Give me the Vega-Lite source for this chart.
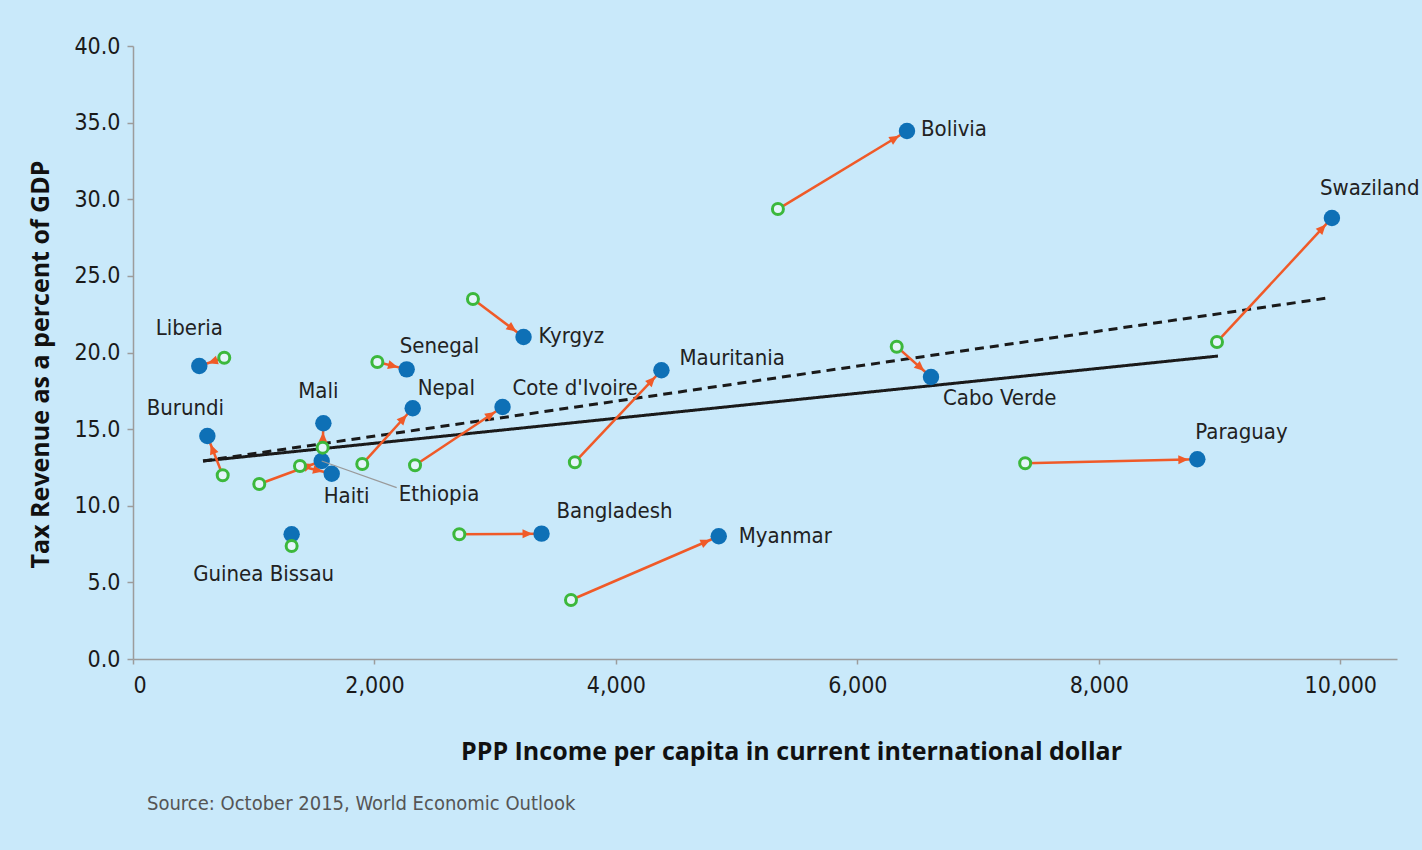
{
  "$schema": "https://vega.github.io/schema/vega-lite/v6.json",
  "autosize": {"type": "none"},
  "padding": {"left": 133, "top": 46, "right": 25, "bottom": 191},
  "width": 1264,
  "height": 613,
  "background": "#c9e9fa",
  "config": {
    "view": {"stroke": null},
    "font": "DejaVu Sans Condensed, Roboto, sans-serif",
    "axis": {
      "grid": false,
      "domainColor": "#9c9c9c",
      "domainWidth": 1.5,
      "tickColor": "#9c9c9c",
      "tickWidth": 1.5,
      "labelFont": "DejaVu Sans Condensed, Roboto, sans-serif",
      "labelFontSize": 23,
      "labelColor": "#1a1a1a",
      "titleFont": "Open Sans",
      "titleFontWeight": "bold",
      "titleFontSize": 25,
      "titleColor": "#111111"
    },
    "axisX": {"tickSize": 5, "labelPadding": 10, "titleX": 658, "titleY": 92, "titleAlign": "center", "titleBaseline": "middle"},
    "axisY": {"tickSize": 6, "labelPadding": 7, "titleX": -93, "titleY": 318, "titleAngle": -90, "titleAlign": "center", "titleBaseline": "middle"}
  },
  "title": {
    "text": "Source: October 2015, World Economic Outlook",
    "orient": "bottom",
    "anchor": "start",
    "frame": "group",
    "dx": 14,
    "offset": 30,
    "font": "DejaVu Sans Condensed, Roboto, sans-serif",
    "fontSize": 20,
    "fontWeight": "normal",
    "color": "#555555"
  },
  "datasets": {
    "countries": [
      {"country": "Bolivia", "x_old": 5342, "y_old": 29.36, "x_new": 6411, "y_new": 34.45},
      {"country": "Swaziland", "x_old": 8979, "y_old": 20.69, "x_new": 9931, "y_new": 28.78},
      {"country": "Kyrgyz", "x_old": 2816, "y_old": 23.49, "x_new": 3235, "y_new": 21.01},
      {"country": "Liberia", "x_old": 756, "y_old": 19.66, "x_new": 549, "y_new": 19.12},
      {"country": "Senegal", "x_old": 2024, "y_old": 19.38, "x_new": 2267, "y_new": 18.9},
      {"country": "Nepal", "x_old": 1899, "y_old": 12.72, "x_new": 2317, "y_new": 16.36},
      {"country": "Cote d'Ivoire", "x_old": 2336, "y_old": 12.64, "x_new": 3061, "y_new": 16.44},
      {"country": "Mauritania", "x_old": 3660, "y_old": 12.84, "x_new": 4377, "y_new": 18.84},
      {"country": "Cabo Verde", "x_old": 6326, "y_old": 20.38, "x_new": 6610, "y_new": 18.4},
      {"country": "Paraguay", "x_old": 7390, "y_old": 12.77, "x_new": 8816, "y_new": 13.03},
      {"country": "Bangladesh", "x_old": 2703, "y_old": 8.14, "x_new": 3384, "y_new": 8.18},
      {"country": "Myanmar", "x_old": 3628, "y_old": 3.85, "x_new": 4852, "y_new": 8.01},
      {"country": "Burundi", "x_old": 743, "y_old": 11.99, "x_new": 616, "y_new": 14.55},
      {"country": "Mali", "x_old": 1571, "y_old": 13.79, "x_new": 1577, "y_new": 15.38},
      {"country": "Ethiopia", "x_old": 1046, "y_old": 11.42, "x_new": 1563, "y_new": 12.92},
      {"country": "Haiti", "x_old": 1383, "y_old": 12.59, "x_new": 1646, "y_new": 12.09},
      {"country": "Guinea Bissau", "x_old": 1314, "y_old": 7.37, "x_new": 1314, "y_new": 8.14}
    ],
    "trend": [
      {"line": "solid", "x": 580, "y": 12.92},
      {"line": "solid", "x": 8987, "y": 19.77},
      {"line": "dashed", "x": 580, "y": 12.92},
      {"line": "dashed", "x": 9898, "y": 23.56}
    ],
    "leader": [
      {"x": 1563, "y": 12.92, "x2": 2184, "y2": 11.18}
    ]
  },
  "layer": [
    {
      "data": {"name": "trend"},
      "mark": {"type": "line", "color": "#1a1a1a", "strokeWidth": 3},
      "encoding": {
        "x": {"field": "x", "type": "quantitative", "title": "PPP Income per capita in current international dollar", "scale": {"domain": [0, 10470], "nice": false, "zero": true}, "axis": {"values": [0, 2000, 4000, 6000, 8000, 10000], "format": ",.0f"}},
        "y": {"field": "y", "type": "quantitative", "title": "Tax Revenue as a percent of GDP", "scale": {"domain": [0, 40], "nice": false}, "axis": {"values": [0, 5, 10, 15, 20, 25, 30, 35, 40], "format": ".1f"}},
        "detail": {"field": "line"},
        "strokeDash": {"field": "line", "type": "nominal", "scale": {"domain": ["solid", "dashed"], "range": [[1, 0], [9, 6]]}, "legend": null}
      }
    },
    {
      "data": {"name": "countries"},
      "transform": [{"filter": {"not": {"field": "country", "equal": "Guinea Bissau"}}}],
      "mark": {"type": "rule", "color": "#f05a28", "strokeWidth": 2.5},
      "encoding": {
        "x": {"field": "x_old", "type": "quantitative", "title": "PPP Income per capita in current international dollar"},
        "y": {"field": "y_old", "type": "quantitative", "title": "Tax Revenue as a percent of GDP"},
        "x2": {"field": "x_new"},
        "y2": {"field": "y_new"}
      }
    },
    {
      "data": {"name": "countries"},
      "transform": [
        {"filter": {"not": {"field": "country", "equal": "Guinea Bissau"}}},
        {"calculate": "atan2((datum.x_new - datum.x_old) * 0.12073, (datum.y_new - datum.y_old) * 15.325) * 180 / PI", "as": "angle"}
      ],
      "mark": {"type": "point", "shape": "M0,9L-4.5,19L4.5,19Z", "size": 4, "filled": true, "color": "#f05a28", "opacity": 1, "strokeWidth": 0},
      "encoding": {
        "x": {"field": "x_new", "type": "quantitative", "title": "PPP Income per capita in current international dollar"},
        "y": {"field": "y_new", "type": "quantitative", "title": "Tax Revenue as a percent of GDP"},
        "angle": {"field": "angle", "type": "quantitative", "scale": null}
      }
    },
    {
      "data": {"name": "countries"},
      "mark": {"type": "circle", "size": 270, "color": "#0e70b6", "opacity": 1},
      "encoding": {
        "x": {"field": "x_new", "type": "quantitative", "title": "PPP Income per capita in current international dollar"},
        "y": {"field": "y_new", "type": "quantitative", "title": "Tax Revenue as a percent of GDP"}
      }
    },
    {
      "data": {"name": "countries"},
      "mark": {"type": "point", "shape": "circle", "size": 121, "fill": "#e4f4fb", "stroke": "#3cb83c", "strokeWidth": 3, "opacity": 1, "fillOpacity": 1},
      "encoding": {
        "x": {"field": "x_old", "type": "quantitative", "title": "PPP Income per capita in current international dollar"},
        "y": {"field": "y_old", "type": "quantitative", "title": "Tax Revenue as a percent of GDP"}
      }
    },
    {
      "data": {"name": "leader"},
      "mark": {"type": "rule", "color": "#9a9a9a", "strokeWidth": 1.2},
      "encoding": {
        "x": {"field": "x", "type": "quantitative", "title": "PPP Income per capita in current international dollar"},
        "y": {"field": "y", "type": "quantitative", "title": "Tax Revenue as a percent of GDP"},
        "x2": {"field": "x2"},
        "y2": {"field": "y2"}
      }
    },
    {
      "data": {"name": "countries"},
      "layer": [
        {"transform": [{"filter": {"field": "country", "equal": "Bolivia"}}], "mark": {"type": "text", "align": "left", "baseline": "middle", "dx": 14, "dy": -2}},
        {"transform": [{"filter": {"field": "country", "equal": "Kyrgyz"}}], "mark": {"type": "text", "align": "left", "baseline": "middle", "dx": 15, "dy": -1}},
        {"transform": [{"filter": {"field": "country", "equal": "Myanmar"}}], "mark": {"type": "text", "align": "left", "baseline": "middle", "dx": 20, "dy": 0}},
        {"transform": [{"filter": {"field": "country", "equal": "Mauritania"}}], "mark": {"type": "text", "align": "left", "baseline": "middle", "dx": 18, "dy": -12}},
        {"transform": [{"filter": {"field": "country", "equal": "Bangladesh"}}], "mark": {"type": "text", "align": "left", "baseline": "middle", "dx": 15, "dy": -23}},
        {"transform": [{"filter": {"field": "country", "equal": "Nepal"}}], "mark": {"type": "text", "align": "left", "baseline": "middle", "dx": 5, "dy": -20}},
        {"transform": [{"filter": {"field": "country", "equal": "Cote d'Ivoire"}}], "mark": {"type": "text", "align": "left", "baseline": "middle", "dx": 10, "dy": -19}},
        {"transform": [{"filter": {"field": "country", "equal": "Senegal"}}], "mark": {"type": "text", "align": "left", "baseline": "middle", "dx": -7, "dy": -23}},
        {"transform": [{"filter": {"field": "country", "equal": "Paraguay"}}], "mark": {"type": "text", "align": "left", "baseline": "middle", "dx": -2, "dy": -27}},
        {"transform": [{"filter": {"field": "country", "equal": "Swaziland"}}], "mark": {"type": "text", "align": "left", "baseline": "middle", "dx": -12, "dy": -30}},
        {"transform": [{"filter": {"field": "country", "equal": "Liberia"}}], "mark": {"type": "text", "align": "center", "baseline": "middle", "dx": -10, "dy": -38}},
        {"transform": [{"filter": {"field": "country", "equal": "Burundi"}}], "mark": {"type": "text", "align": "center", "baseline": "middle", "dx": -22, "dy": -28}},
        {"transform": [{"filter": {"field": "country", "equal": "Mali"}}], "mark": {"type": "text", "align": "center", "baseline": "middle", "dx": -5, "dy": -32}},
        {"transform": [{"filter": {"field": "country", "equal": "Haiti"}}], "mark": {"type": "text", "align": "left", "baseline": "middle", "dx": -8, "dy": 22}},
        {"transform": [{"filter": {"field": "country", "equal": "Ethiopia"}}], "mark": {"type": "text", "align": "left", "baseline": "middle", "dx": 77, "dy": 33}},
        {"transform": [{"filter": {"field": "country", "equal": "Guinea Bissau"}}], "mark": {"type": "text", "align": "center", "baseline": "middle", "dx": -28, "dy": 40}},
        {"transform": [{"filter": {"field": "country", "equal": "Cabo Verde"}}], "mark": {"type": "text", "align": "left", "baseline": "middle", "dx": 12, "dy": 21}}
      ],
      "encoding": {
        "x": {"field": "x_new", "type": "quantitative", "title": "PPP Income per capita in current international dollar"},
        "y": {"field": "y_new", "type": "quantitative", "title": "Tax Revenue as a percent of GDP"},
        "text": {"field": "country"},
        "color": {"value": "#222222"},
        "size": {"value": 22}
      }
    }
  ]
}
